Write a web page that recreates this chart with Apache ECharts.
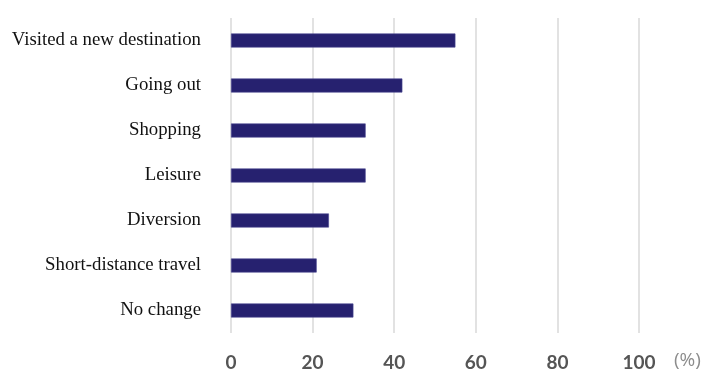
<!DOCTYPE html>
<html><head><meta charset="utf-8">
<script src="https://cdn.jsdelivr.net/npm/echarts@6/dist/echarts.min.js"></script>
<style>html,body{margin:0;padding:0;background:#fff}#c{width:709px;height:372px}</style>
</head><body><div id="c"></div>
<script>
const categories = ["Visited a new destination","Going out","Shopping","Leisure","Diversion","Short-distance travel","No change"];
const values = [55, 42, 33, 33, 24, 21, 30];
const xTicks = [0, 20, 40, 60, 80, 100];
const unitLabel = "(%)";

const chart = echarts.init(document.getElementById('c'));
chart.setOption({
  animation: false,
  grid: {left: 231, right: 70, top: 18, bottom: 38},
  xAxis: {
    type: 'value', min: xTicks[0], max: xTicks[xTicks.length-1], interval: 20,
    axisLine: {show: false}, axisTick: {show: false},
    splitLine: {lineStyle: {color: '#d9d9d9', width: 1.5}},
    axisLabel: {margin: 20, color: '#555', fontFamily: 'Lato', fontWeight: 'bold', fontSize: 19}
  },
  yAxis: {
    type: 'category', data: categories, inverse: true,
    axisLine: {show: false}, axisTick: {show: false},
    axisLabel: {margin: 30, color: '#111', fontFamily: 'Liberation Serif', fontSize: 18.8}
  },
  series: [{
    type: 'bar', data: values, barWidth: 14,
    itemStyle: {color: '#26216f', borderColor: '#4a4690', borderWidth: 0.6}
  }],
  graphic: [{
    type: 'text', left: 674, top: 351,
    style: {text: unitLabel, fill: '#8c8c8c', font: '19px "Open Sans"'}
  }]
});
</script></body></html>
